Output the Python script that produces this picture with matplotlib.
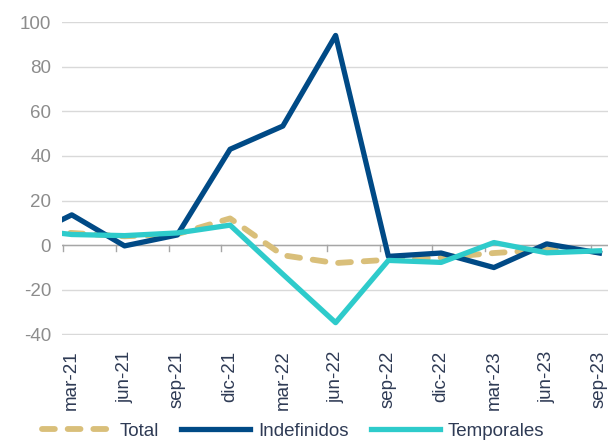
import numpy as np
import matplotlib.pyplot as plt

plt.rcParams['font.family'] = ['Liberation Sans', 'DejaVu Sans']
plt.rcParams['axes.unicode_minus'] = False

# quarterly data (months from mar-21); first point (dic-20) is clipped by the axis
months = [-3, 0, 3, 6, 9, 12, 15, 18, 21, 24, 27, 30]
total = [6, 5.5, 4, 5, 12, -4.5, -8, -6.5, -5.5, -3.5, -2, -3]
indefinidos = [2, 13.6, -0.3, 4.6, 43, 53.4, 94, -5, -3.5, -10, 0.6, -3.5]
temporales = [7.5, 4.8, 4.3, 5.5, 9, -13, -34.7, -6.8, -7.7, 1.2, -3.4, -2.5]

tick_labels = ['mar-21', 'jun-21', 'sep-21', 'dic-21', 'mar-22', 'jun-22',
               'sep-22', 'dic-22', 'mar-23', 'jun-23', 'sep-23']
tick_months = [0, 3, 6, 9, 12, 15, 18, 21, 24, 27, 30]

c_total = '#D9BF7A'
c_indef = '#004A86'
c_temp = '#2ECBCB'
c_tick = '#8C8C8C'
c_text = '#2F3B55'

fig = plt.figure(figsize=(6.15, 4.41), dpi=100)
ax = fig.add_axes([0.101, 0.240, 0.888, 0.710])

ax.plot(months, total, color=c_total, lw=4.2, linestyle=(0, (2.2, 2.2)),
        dash_capstyle='round', label='Total', zorder=3)
ax.plot(months, indefinidos, color=c_indef, lw=3.8, solid_joinstyle='round',
        label='Indefinidos', zorder=4)
ax.plot(months, temporales, color=c_temp, lw=3.8, solid_joinstyle='round',
        label='Temporales', zorder=5)

ax.set_xlim(-0.55, 30.5)
ax.set_ylim(-40.3, 100)
ax.set_yticks(np.arange(-40, 101, 20))
ax.yaxis.grid(True, color='#D9D9D9', lw=1)
ax.set_axisbelow(True)
for s in ['top', 'right', 'left', 'bottom']:
    ax.spines[s].set_visible(False)
ax.axhline(0, color='#A6A6A6', lw=1, zorder=2)

# tick marks on the zero line, half a month left of each label
for m in tick_months:
    ax.plot([m - 0.5, m - 0.5], [0, -2.6], color='#A6A6A6', lw=1, zorder=2,
            clip_on=False)

ax.set_xticks(tick_months)
ax.set_xticklabels(tick_labels, rotation=90, fontsize=13.5, color=c_text)
ax.tick_params(axis='x', length=0, pad=11)
ax.tick_params(axis='y', length=0, labelsize=13.5, labelcolor=c_tick, pad=8)

leg = fig.legend(loc='lower center', bbox_to_anchor=(0.477, -0.035), ncol=3,
                 frameon=False, fontsize=13.5, handlelength=3.7,
                 columnspacing=1.2, handletextpad=0.4)
for t in leg.get_texts():
    t.set_color(c_text)

fig.savefig('out.png', dpi=100)
